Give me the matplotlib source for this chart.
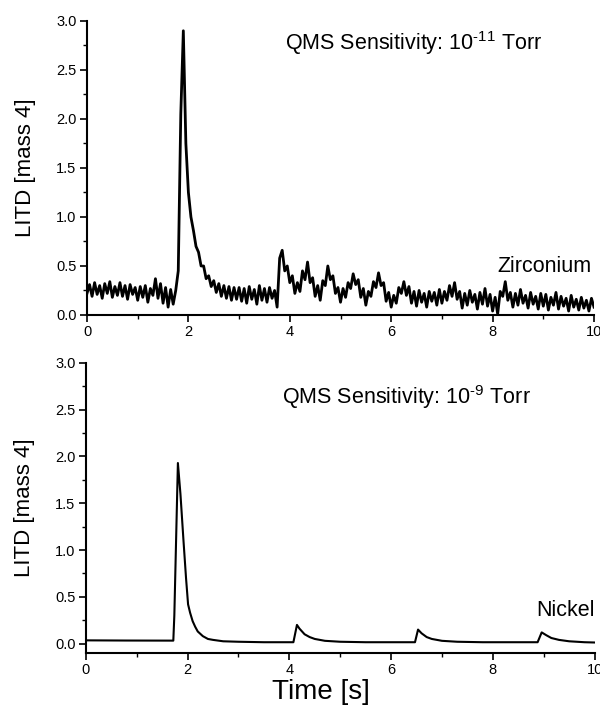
import numpy as np
import matplotlib.pyplot as plt
from matplotlib.ticker import MultipleLocator

plt.rcParams['font.family'] = ['Liberation Sans', 'DejaVu Sans']
plt.rcParams['mathtext.fontset'] = 'custom'
plt.rcParams['mathtext.rm'] = 'Liberation Sans'
plt.rcParams['mathtext.it'] = 'Liberation Sans:italic'

t_zr = np.linspace(0, 10, 201)
zr = [
    0.22, 0.31, 0.19, 0.33, 0.21, 0.30, 0.17, 0.32, 0.22, 0.34,
    0.18, 0.29, 0.20, 0.33, 0.19, 0.30, 0.16, 0.31, 0.21, 0.28,
    0.15, 0.29, 0.18, 0.30, 0.13, 0.27, 0.20, 0.37, 0.17, 0.32,
    0.12, 0.28, 0.08, 0.26, 0.11, 0.25, 0.45, 2.05, 2.90, 1.75,
    1.25, 1.00, 0.86, 0.70, 0.64, 0.50, 0.50, 0.37, 0.40, 0.29,
    0.35, 0.23, 0.32, 0.19, 0.30, 0.17, 0.29, 0.15, 0.28, 0.16,
    0.28, 0.14, 0.27, 0.12, 0.29, 0.16, 0.26, 0.11, 0.30, 0.15,
    0.27, 0.13, 0.28, 0.17, 0.25, 0.08, 0.58, 0.66, 0.45, 0.50,
    0.33, 0.40, 0.22, 0.33, 0.24, 0.45, 0.36, 0.54, 0.33, 0.38,
    0.19, 0.30, 0.15, 0.35, 0.30, 0.50, 0.36, 0.40, 0.22, 0.28,
    0.13, 0.27, 0.18, 0.33, 0.27, 0.42, 0.31, 0.36, 0.18, 0.27,
    0.10, 0.24, 0.19, 0.34, 0.28, 0.43, 0.30, 0.33, 0.14, 0.23,
    0.08, 0.20, 0.12, 0.28, 0.22, 0.34, 0.20, 0.29, 0.12, 0.24,
    0.09, 0.25, 0.13, 0.22, 0.08, 0.24, 0.14, 0.23, 0.10, 0.26,
    0.12, 0.24, 0.15, 0.30, 0.19, 0.33, 0.16, 0.24, 0.07, 0.22,
    0.10, 0.25, 0.13, 0.21, 0.06, 0.23, 0.11, 0.27, 0.09, 0.21,
    0.04, 0.18, 0.01, 0.24, 0.19, 0.34, 0.15, 0.23, 0.08, 0.22,
    0.10, 0.26, 0.12, 0.20, 0.07, 0.23, 0.11, 0.19, 0.06, 0.22,
    0.09, 0.21, 0.05, 0.18, 0.10, 0.23, 0.06, 0.19, 0.09, 0.17,
    0.04, 0.20, 0.08, 0.16, 0.05, 0.18, 0.07, 0.15, 0.04, 0.17,
    0.08,
]

# Nickel trace (smooth, read at irregular times)
t_ni = [0.0, 0.8, 1.72, 1.74, 1.81, 1.86, 1.92, 1.97, 2.01, 2.05, 2.10,
        2.15, 2.20, 2.30, 2.40, 2.50, 2.70, 3.00, 3.50, 4.08, 4.15, 4.20,
        4.30, 4.40, 4.50, 4.70, 5.00, 5.50, 6.00, 6.47, 6.53, 6.60, 6.70,
        6.80, 7.00, 7.30, 7.80, 8.40, 8.88, 8.96, 9.05, 9.15, 9.30, 9.50,
        9.80, 10.0]
ni = [0.035, 0.033, 0.032, 0.30, 1.93, 1.60, 1.10, 0.70, 0.42, 0.33, 0.24,
      0.18, 0.13, 0.08, 0.05, 0.04, 0.025, 0.02, 0.015, 0.015, 0.20, 0.16,
      0.10, 0.07, 0.05, 0.03, 0.02, 0.015, 0.015, 0.015, 0.15, 0.11, 0.07,
      0.05, 0.03, 0.02, 0.015, 0.015, 0.015, 0.12, 0.09, 0.06, 0.04, 0.025,
      0.015, 0.012]

fig = plt.figure(figsize=(6, 7.11), dpi=100)
ax1 = fig.add_axes([0.145, 0.557, 0.845, 0.4135])
ax2 = fig.add_axes([0.143, 0.0816, 0.848, 0.408])

ax1.plot(t_zr, zr, color='black', lw=2.0)
ax2.plot(t_ni, ni, color='black', lw=1.5)

for ax, ylo in ((ax1, 0.0), (ax2, -0.1)):
    ax.set_xlim(0, 10)
    ax.set_ylim(ylo, 3.0)
    ax.spines['top'].set_visible(False)
    ax.spines['right'].set_visible(False)
    ax.spines['left'].set_linewidth(1.5)
    ax.spines['bottom'].set_linewidth(1.5)
    ax.xaxis.set_major_locator(MultipleLocator(2))
    ax.xaxis.set_minor_locator(MultipleLocator(1))
    ax.yaxis.set_major_locator(MultipleLocator(0.5))
    ax.yaxis.set_minor_locator(MultipleLocator(0.25))
    ax.tick_params(which='major', direction='out', length=5, width=1.2,
                   labelsize=10.5, pad=2.5)
    ax.tick_params(which='minor', direction='out', length=3, width=1.0)
    ax.set_ylabel('LITD [mass 4]', fontsize=16)
    ax.yaxis.set_label_coords(-0.1, 0.5)

ax1.text(3.9, 2.70, r'QMS Sensitivity: 10$^{\text{-11}}$ Torr', fontsize=15.5)
ax1.text(9.96, 0.44, 'Zirconium', fontsize=15.5, ha='right')
ax2.text(3.85, 2.56, r'QMS Sensitivity: 10$^{\text{-9}}$ Torr', fontsize=15.5)
ax2.text(10.0, 0.29, 'Nickel', fontsize=15.5, ha='right')
ax2.set_xlabel('Time [s]', fontsize=20)
ax2.xaxis.set_label_coords(0.463, -0.09)

fig.savefig('out.png', dpi=100)
